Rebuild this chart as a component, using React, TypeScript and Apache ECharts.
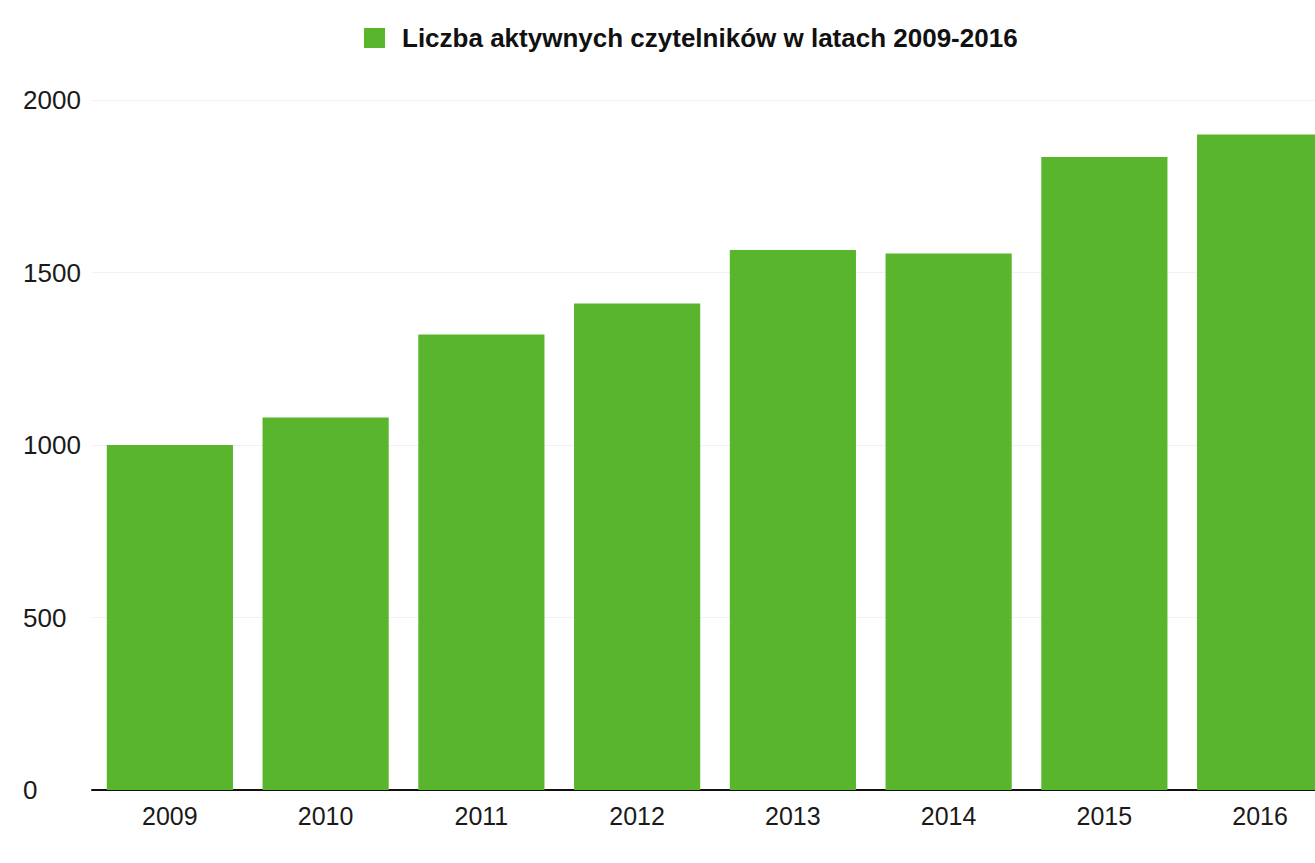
import React, { useEffect, useRef } from "react";
import * as echarts from "echarts";

const categories = ["2009", "2010", "2011", "2012", "2013", "2014", "2015", "2016"];
const readers = [1000, 1080, 1320, 1410, 1565, 1555, 1835, 1900];
const yTicks = [0, 500, 1000, 1500, 2000];
const seriesName = "Liczba aktywnych czytelników w latach 2009-2016";

export default function App() {
  const ref = useRef<HTMLDivElement>(null);
  useEffect(() => {
    if (!ref.current) return;
    const chart = echarts.init(ref.current, undefined, { renderer: "svg" });
    chart.setOption({
      animation: false,
      backgroundColor: "#ffffff",
      legend: {
        top: 20,
        left: 359,
        itemWidth: 21,
        itemHeight: 20,
        icon: "rect",
        textStyle: {
          fontFamily: "Liberation Sans, Arial, sans-serif",
          fontWeight: "bold",
          fontSize: 26,
          color: "#111",
          padding: [0, 0, 0, 12],
        },
        data: [seriesName],
      },
      grid: { left: 92, right: 2, top: 100, bottom: 73, containLabel: false },
      xAxis: {
        type: "category",
        data: categories,
        axisLine: { show: true, lineStyle: { color: "#111", width: 2 } },
        axisTick: { show: false },
        axisLabel: {
          margin: 13,
          fontFamily: "Liberation Sans, Arial, sans-serif",
          fontSize: 25,
          color: "#1a1a1a",
        },
      },
      yAxis: {
        type: "value",
        min: yTicks[0],
        max: yTicks[yTicks.length - 1],
        interval: 500,
        axisLine: { show: false },
        axisTick: { show: false },
        splitLine: { show: true, lineStyle: { color: "#eef2f7", width: 1 } },
        axisLabel: {
          align: "left",
          margin: 69,
          formatter: (v: number) => String(v),
          fontFamily: "Liberation Sans, Arial, sans-serif",
          fontSize: 26,
          color: "#1a1a1a",
        },
      },
      series: [
        {
          name: seriesName,
          type: "bar",
          data: readers,
          barWidth: "81%",
          itemStyle: { color: "#58b52c" },
        },
      ],
    });
    return () => chart.dispose();
  }, []);
  return (
    <div
      style={{ position: "absolute", left: 0, top: 0, width: 1315, height: 863, overflow: "hidden", background: "#fff" }}
    >
      <div ref={ref} style={{ width: 1340, height: 863 }} />
    </div>
  );
}
